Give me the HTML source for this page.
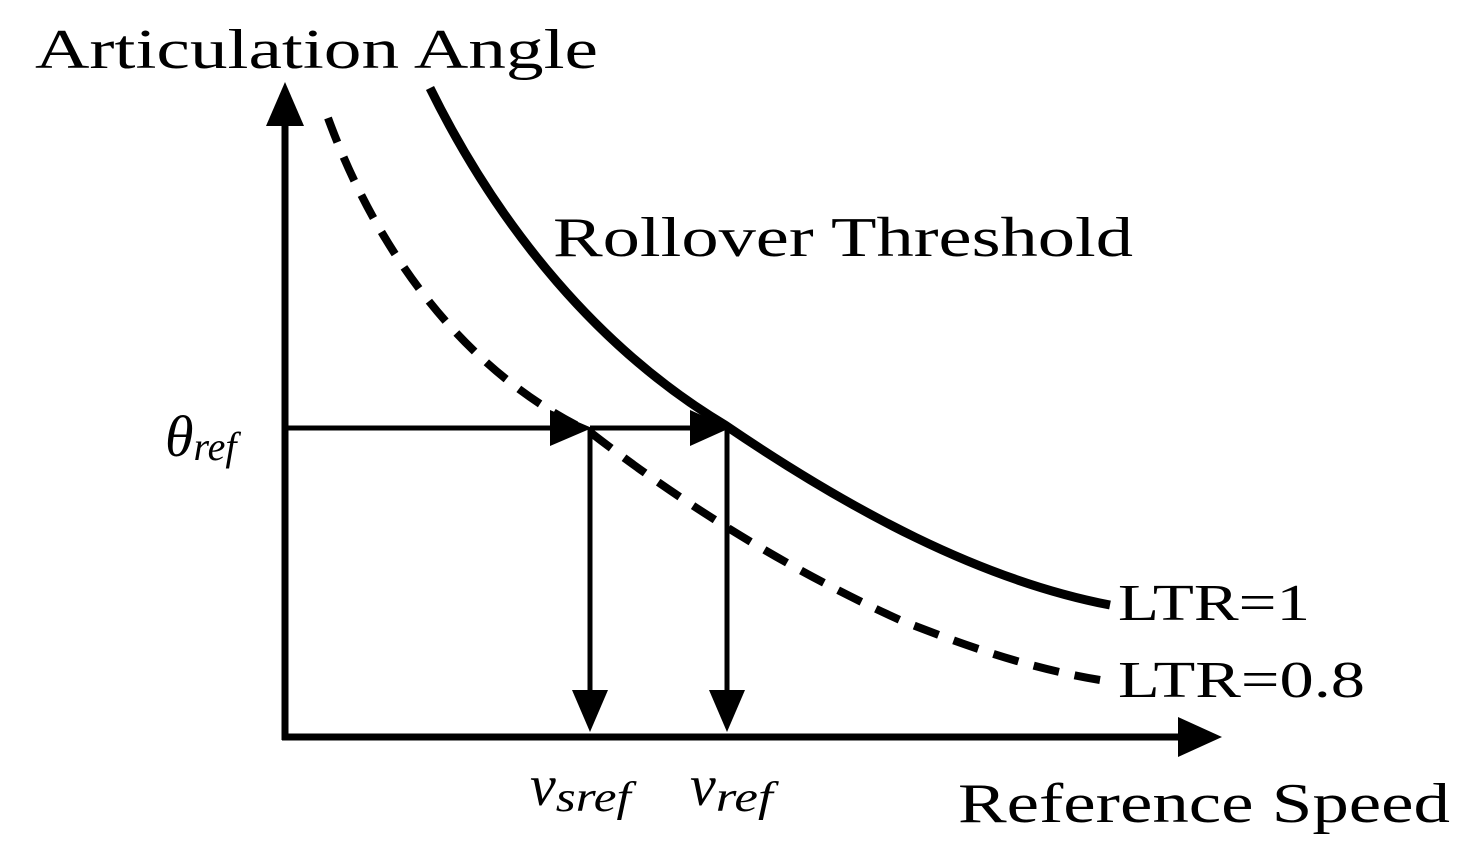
<!DOCTYPE html>
<html><head><meta charset="utf-8"><style>
html,body{margin:0;padding:0;background:#fff;}
svg{display:block;}
text{font-family:"Liberation Serif",serif;fill:#000;}
</style></head><body>
<svg width="1479" height="866" viewBox="0 0 1479 866" xmlns="http://www.w3.org/2000/svg">
<line x1="285" y1="120" x2="285" y2="740" stroke="#000" stroke-width="7"/>
<polygon points="285,82 266,126 304,126" fill="#000"/>
<line x1="282" y1="737" x2="1185" y2="737" stroke="#000" stroke-width="7"/>
<polygon points="1222,737 1178,717 1178,757" fill="#000"/>
<path d="M430,88 C500,230 600,350 725,425 C850,510 980,580 1110,605" fill="none" stroke="#000" stroke-width="9"/>
<path d="M328,118 C380,260 470,375 590,432 C690,510 800,575 900,620 C980,652 1040,670 1100,680" fill="none" stroke="#000" stroke-width="8" stroke-dasharray="26,16"/>
<line x1="285" y1="428" x2="560" y2="428" stroke="#000" stroke-width="5"/>
<polygon points="592,428 550,410 550,446" fill="#000"/>
<line x1="590" y1="428" x2="700" y2="428" stroke="#000" stroke-width="5"/>
<polygon points="730,428 690,410 690,446" fill="#000"/>
<line x1="590" y1="428" x2="590" y2="700" stroke="#000" stroke-width="5"/>
<polygon points="590,732 572,690 608,690" fill="#000"/>
<line x1="727" y1="428" x2="727" y2="700" stroke="#000" stroke-width="5"/>
<polygon points="727,732 709,690 745,690" fill="#000"/>
<text x="35" y="68" font-size="56" textLength="563" lengthAdjust="spacingAndGlyphs">Articulation Angle</text>
<text x="553" y="256" font-size="56" textLength="580" lengthAdjust="spacingAndGlyphs">Rollover Threshold</text>
<text x="1118" y="620" font-size="52" textLength="192" lengthAdjust="spacingAndGlyphs">LTR=1</text>
<text x="1118" y="697" font-size="52" textLength="247" lengthAdjust="spacingAndGlyphs">LTR=0.8</text>
<text x="958" y="822" font-size="56" textLength="492" lengthAdjust="spacingAndGlyphs">Reference Speed</text>
<text x="165" y="456" font-size="58" font-style="italic">θ<tspan font-size="40" dy="4">ref</tspan></text>
<text x="530" y="805" font-size="58" font-style="italic">v<tspan font-size="42" dy="6" textLength="75" lengthAdjust="spacingAndGlyphs">sref</tspan></text>
<text x="690" y="805" font-size="58" font-style="italic">v<tspan font-size="42" dy="6" textLength="57" lengthAdjust="spacingAndGlyphs">ref</tspan></text>
</svg>
</body></html>
